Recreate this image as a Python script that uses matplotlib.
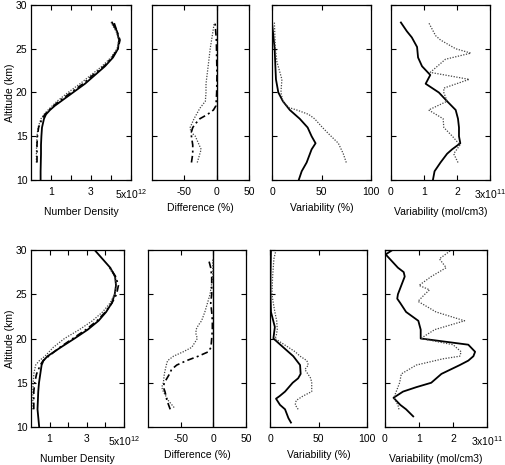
import matplotlib.pyplot as plt

plt.rcParams['font.family'] = ['Liberation Sans', 'DejaVu Sans']
plt.rcParams['font.size'] = 7.5
plt.rcParams['mathtext.fontset'] = 'custom'
plt.rcParams['mathtext.rm'] = 'Liberation Sans'
plt.rcParams['mathtext.default'] = 'regular'

# ---------------- top row ----------------
# number density (x 1e12)
nd1_alt_solid = [10, 11, 12, 13, 14, 15, 16, 17, 17.5, 18, 18.5, 19, 20, 21, 22, 23, 24, 25, 26, 27, 28]
nd1_solid = [0.48, 0.48, 0.49, 0.5, 0.5, 0.52, 0.55, 0.65, 0.75, 0.95, 1.2, 1.5, 2.1, 2.7, 3.2, 3.7, 4.1, 4.35, 4.4, 4.3, 4.05]
nd1_alt = [12, 13, 14, 15, 16, 17, 17.5, 18, 19, 20, 21, 22, 23, 24, 25, 26, 27, 28]
nd1_dot = [0.27, 0.27, 0.28, 0.3, 0.35, 0.5, 0.65, 0.85, 1.3, 1.85, 2.45, 3.0, 3.55, 4.0, 4.3, 4.4, 4.25, 4.0]
nd1_dash = [0.3, 0.3, 0.3, 0.32, 0.38, 0.55, 0.7, 0.9, 1.4, 2.0, 2.6, 3.1, 3.65, 4.05, 4.35, 4.45, 4.3, 4.15]

# difference (%)
df1_alt_dot = [12, 13, 13.5, 14, 15, 15.5, 16, 17, 18.2, 19, 20, 21, 22.5, 25, 28]
df1_dot = [-30, -26, -24, -27, -33, -40, -41, -35, -26, -17.5, -16.5, -16.5, -14, -10, -3.6]
df1_alt_dash = [12, 13, 14, 15, 15.5, 16, 16.5, 17, 17.5, 18, 18.5, 20, 22, 24, 26, 28]
df1_dash = [-39, -37, -37, -39, -39, -37, -32, -26, -14, -5, -1, 0, 0.5, 0, -0.5, -2.5]

# variability (%)
vp1_alt_solid = [10, 11, 12, 13.5, 14.2, 15, 16, 17, 18, 19, 20, 21.5, 23, 25, 28]
vp1_solid = [27, 30, 35, 40, 44, 40, 36, 28, 18, 11, 6.4, 4, 3.4, 2.7, 0]
vp1_alt_dot = [12, 13, 14.2, 15.3, 16, 17, 17.5, 18, 18.3, 19, 20, 21.5, 23.5, 25, 28]
vp1_dot = [75, 72, 67, 57, 51, 43, 37, 25, 16.5, 11, 9, 10, 5, 3.4, 2.4]

# variability (x 1e11 mol/cm3)
vm1_alt_solid = [10, 11, 12, 13, 13.5, 14.2, 15, 16, 17, 18, 19, 20, 21, 22, 23, 24, 25.2, 26.3, 27, 28]
vm1_solid = [1.27, 1.32, 1.5, 1.7, 1.85, 2.1, 2.06, 2.06, 2.03, 1.96, 1.7, 1.45, 1.05, 1.19, 0.94, 0.82, 0.79, 0.63, 0.48, 0.3]
vm1_alt_dot = [12, 13, 14, 15, 16, 17, 18, 19, 20, 20.5, 21.5, 22.3, 23.8, 24.5, 25, 26, 26.5, 28]
vm1_dot = [2.03, 1.9, 2.09, 1.86, 1.6, 1.58, 1.14, 1.7, 1.6, 1.6, 2.37, 1.19, 1.65, 2.42, 1.96, 1.5, 1.35, 1.14]

# ---------------- bottom row ----------------
nd2_alt_solid = [10, 12, 14, 15, 16, 17, 17.5, 18, 19, 20, 21, 22, 23, 24, 25, 26, 27, 28, 30]
nd2_solid = [0.44, 0.35, 0.39, 0.43, 0.5, 0.57, 0.67, 0.89, 1.6, 2.34, 3.05, 3.63, 4.04, 4.34, 4.5, 4.57, 4.52, 4.26, 3.42]
nd2_alt = [12, 13, 14, 15, 16, 17, 17.5, 18, 19, 20, 21, 22, 23, 24, 25, 26, 27, 28]
nd2_dot = [0.1, 0.1, 0.1, 0.12, 0.15, 0.25, 0.45, 0.75, 1.2, 1.8, 2.6, 3.3, 3.85, 4.25, 4.5, 4.6, 4.5, 4.2]
nd2_dash = [0.15, 0.15, 0.15, 0.2, 0.3, 0.5, 0.65, 0.95, 1.55, 2.25, 2.95, 3.55, 4.0, 4.35, 4.6, 4.7, 4.55, 4.25]

df2_alt_dot = [12.2, 13, 14, 14.5, 15, 16, 17, 17.5, 18, 18.5, 19, 20, 20.5, 21, 21.5, 22, 23, 24, 25, 27, 29]
df2_dot = [-60, -69, -76.5, -79, -76.5, -75, -72, -70, -61, -46, -33, -24.5, -26.5, -26.5, -23, -18, -13, -9, -5, -1, -1]
df2_alt_dash = [12, 13, 14, 14.5, 15, 16, 16.5, 17, 17.5, 18, 18.5, 19, 20, 21, 22, 23, 24, 25, 26, 27, 28, 29]
df2_dash = [-66, -71, -74, -76.5, -75, -67, -64, -56, -41, -23, -7.6, -3.6, -2.5, -1.5, -1.5, -2.5, -4, -2.5, -2.5, -2.5, -4, -7.6]

vp2_alt_solid = [10.5, 11, 12, 12.5, 13.2, 13.5, 14, 15, 15.5, 16, 17, 18, 19, 20, 21.3, 23, 25, 27, 30]
vp2_solid = [21.6, 19, 15.5, 10.3, 6.2, 10, 15.5, 23.4, 29, 31.6, 31, 24, 13.7, 3.5, 5, 1, 0.5, 0.5, 1]
vp2_alt_dot = [12, 12.5, 13, 13.5, 14, 15, 15.5, 16, 16.5, 17, 17.5, 18, 18.5, 19, 20, 20.2, 21, 22, 23, 24, 25, 27, 29, 30]
vp2_dot = [29, 26, 27, 34, 43, 43, 42, 39, 36, 39.5, 38, 31, 26, 19, 5, 6.2, 7.5, 6.9, 5, 3.4, 2, 2.7, 4, 6.2]

vm2_alt_solid = [11.2, 12, 12.5, 13.3, 14, 14.5, 15, 16, 17, 17.5, 18, 18.5, 19.3, 20, 21, 22, 23, 24, 24.5, 25, 26, 27, 27.5, 28, 29, 29.5, 30]
vm2_solid = [0.83, 0.62, 0.45, 0.25, 0.53, 0.92, 1.36, 1.66, 2.2, 2.45, 2.6, 2.65, 2.45, 1.05, 1.05, 0.98, 0.62, 0.45, 0.36, 0.38, 0.48, 0.58, 0.55, 0.38, 0.14, 0.02, 0.22]
vm2_alt_dot = [12, 12.5, 13.3, 14, 15, 16, 17, 17.7, 18, 18.5, 19.3, 20, 21, 22, 23, 24.2, 25, 25.5, 26, 27, 28, 29, 30]
vm2_dot = [0.41, 0.38, 0.26, 0.33, 0.43, 0.48, 0.92, 1.7, 2.2, 2.24, 2.0, 1.05, 1.46, 2.34, 1.5, 0.97, 1.17, 1.31, 1.0, 1.36, 1.8, 1.6, 1.95]

# ---------------- panel setup ----------------
W, H = 506, 465
top_row = (5, 180)
bot_row = (250, 427)
top_x = [(31, 131), (152, 249), (272, 371), (391, 490)]
bot_x = [(31, 124), (148, 246), (270, 367), (385, 487)]

xlims = [(0, 5), (-100, 50), (0, 100), (0, 3)]
xticks = [[1, 2, 3, 4, 5], [-50, 0, 50], [0, 50, 100], [0, 1, 2, 3]]
xticklabels = [['1', '', '3', '', r'5x10$^{12}$'], ['-50', '0', '50'],
               ['0', '50', '100'], ['0', '1', '2', r'3x10$^{11}$']]
xlabels = ['Number Density', 'Difference (%)', 'Variability (%)', 'Variability (mol/cm3)']

solid = dict(color='black', lw=1.3, ls='-')
dotted = dict(color='#444444', lw=0.9, ls=(0, (1, 1.2)))
dashdot = dict(color='black', lw=1.2, ls=(0, (4, 2, 1.2, 2)))

fig = plt.figure(figsize=(W / 100, H / 100), dpi=100)


def make_axes(xs, yr):
    axes = []
    for i, (x0, x1) in enumerate(xs):
        ax = fig.add_axes([x0 / W, 1 - yr[1] / H, (x1 - x0) / W, (yr[1] - yr[0]) / H])
        ax.set_xlim(*xlims[i])
        ax.set_ylim(10, 30)
        ax.set_xticks(xticks[i])
        ax.set_xticklabels(xticklabels[i])
        ax.set_yticks([10, 15, 20, 25, 30])
        ax.tick_params(direction='in', length=3.5, width=0.8, top=True, right=True,
                       labelsize=7.5)
        ax.tick_params(axis='x', pad=5)
        ax.tick_params(axis='y', pad=2.5)
        if i == 0:
            ax.set_ylabel('Altitude (km)', labelpad=1)
        else:
            ax.set_yticklabels([])
        ax.set_xlabel(xlabels[i], labelpad=4.5)
        for s in ax.spines.values():
            s.set_linewidth(0.9)
        axes.append(ax)
    return axes


a = make_axes(top_x, top_row)
a[0].plot(nd1_solid, nd1_alt_solid, **solid)
a[0].plot(nd1_dot, nd1_alt, **dotted)
a[0].plot(nd1_dash, nd1_alt, **dashdot)
a[1].axvline(0, color='black', lw=1.0)
a[1].plot(df1_dot, df1_alt_dot, **dotted)
a[1].plot(df1_dash, df1_alt_dash, **dashdot)
a[2].plot(vp1_solid, vp1_alt_solid, **solid)
a[2].plot(vp1_dot, vp1_alt_dot, **dotted)
a[3].plot(vm1_solid, vm1_alt_solid, **solid)
a[3].plot(vm1_dot, vm1_alt_dot, **dotted)

b = make_axes(bot_x, bot_row)
b[0].plot(nd2_solid, nd2_alt_solid, **solid)
b[0].plot(nd2_dot, nd2_alt, **dotted)
b[0].plot(nd2_dash, nd2_alt, **dashdot)
b[1].axvline(0, color='black', lw=1.0)
b[1].plot(df2_dot, df2_alt_dot, **dotted)
b[1].plot(df2_dash, df2_alt_dash, **dashdot)
b[2].plot(vp2_solid, vp2_alt_solid, **solid)
b[2].plot(vp2_dot, vp2_alt_dot, **dotted)
b[3].plot(vm2_solid, vm2_alt_solid, **solid)
b[3].plot(vm2_dot, vm2_alt_dot, **dotted)

fig.savefig('out.png', dpi=100)
